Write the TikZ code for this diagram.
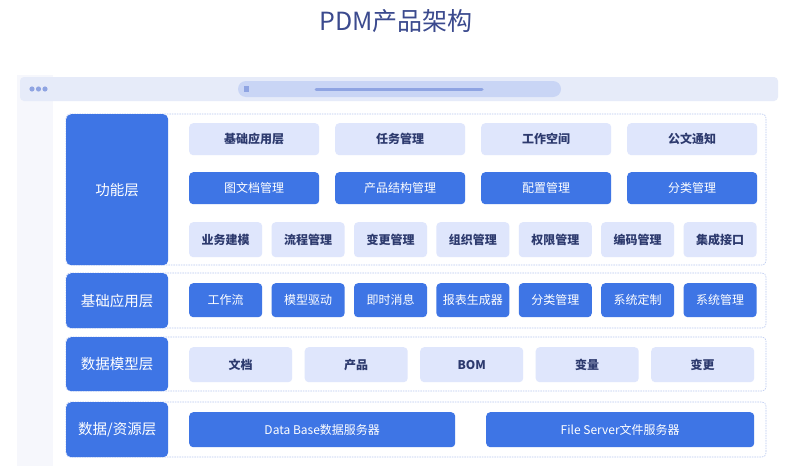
\documentclass[tikz,border=0pt]{standalone}
\usepackage{fontspec}
\setmainfont{Noto Sans CJK SC}
\usepackage{tikz}
\usetikzlibrary{positioning}
\definecolor{deepblue}{HTML}{3E75E5}
\definecolor{paleblue}{HTML}{DFE6FC}
\definecolor{inktext}{HTML}{2D3A6E}
\definecolor{framecol}{HTML}{B8C7F0}
\definecolor{barcol}{HTML}{E6EBF9}
\definecolor{sidecol}{HTML}{F6F7FC}
\definecolor{addrcol}{HTML}{C9D5F5}
\definecolor{dotcol}{HTML}{8FA4E2}
\definecolor{titlecol}{HTML}{3B4A8E}

\begin{document}
\begin{tikzpicture}[x=1pt, y=-1pt,
  layer/.style={fill=deepblue, rounded corners=5pt, anchor=north west, text=white, font=\fontsize{14.5}{16}\selectfont, minimum width=102pt},
  frame/.style={draw=framecol, dash pattern=on 1.5pt off 1pt, rounded corners=4pt, line width=0.6pt},
  lightbox/.style={fill=paleblue, rounded corners=4pt, anchor=north west, text=inktext, font=\fontsize{12}{14}\selectfont\bfseries, inner sep=0pt},
  darkbox/.style={fill=deepblue, rounded corners=4pt, anchor=north west, text=white, font=\fontsize{12}{14}\selectfont, inner sep=0pt}]
\useasboundingbox[fill=white] (0,0) rectangle (800,471);

% title and browser window
\node[text=titlecol, font=\fontsize{25}{28}\selectfont] (title) at (396,21) {PDM产品架构};
\fill[sidecol] (17,75) rectangle (53,466);
\fill[barcol, rounded corners=4pt] (20,101) -- (20,77) -- (778,77) -- (778,101) -- cycle;
\foreach \dx in {32,38.5,45}
  \fill[dotcol] (\dx,89) circle (2.6pt);
\fill[addrcol, rounded corners=8pt] (238,81) rectangle (561,97);
\draw[line width=3pt, line cap=round, color=dotcol] (316,89) -- (482,89);
\fill[dotcol] (244,86) rectangle (249,92);

% frames
\draw[frame] (66,114) rectangle (766,265);
\draw[frame] (66,273) rectangle (766,328);
\draw[frame] (66,337) rectangle (766,391);
\draw[frame] (66,402) rectangle (766,457);

% layer labels
\node[layer, minimum height=151pt] (func) at (66,114) {功能层};
\node[layer, minimum height=55pt] (base) at (66,273) {基础应用层};
\node[layer, minimum height=54pt] (model) at (66,337) {数据模型层};
\node[layer, minimum height=55pt] (res) at (66,402) {数据/资源层};

% function layer
\foreach \t [count=\i from 0] in {基础应用层,任务管理,工作空间,公文通知}
  \node[lightbox, minimum width=130pt, minimum height=32pt] (fa\i) at (189+146*\i,123) {\t};
\foreach \t [count=\i from 0] in {图文档管理,产品结构管理,配置管理,分类管理}
  \node[darkbox, minimum width=130pt, minimum height=32pt] (fb\i) at (189+146*\i,172) {\t};
\foreach \t [count=\i from 0] in {业务建模,流程管理,变更管理,组织管理,权限管理,编码管理,集成接口}
  \node[lightbox, minimum width=73pt, minimum height=35pt] (fc\i) at (189+82.4*\i,222) {\t};

% base application layer
\foreach \t [count=\i from 0] in {工作流,模型驱动,即时消息,报表生成器,分类管理,系统定制,系统管理}
  \node[darkbox, minimum width=73pt, minimum height=34pt] (ba\i) at (189+82.4*\i,283) {\t};

% data model layer
\foreach \t [count=\i from 0] in {文档,产品,BOM,变量,变更}
  \node[lightbox, minimum width=103pt, minimum height=35pt] (dm\i) at (189+115.5*\i,347) {\t};

% data / resource layer
\node[darkbox, minimum width=266pt, minimum height=35pt] (db) at (189,412) {Data Base数据服务器};
\node[darkbox, minimum width=268pt, minimum height=35pt] (fs) at (486,412) {File Server文件服务器};
\end{tikzpicture}
\end{document}
